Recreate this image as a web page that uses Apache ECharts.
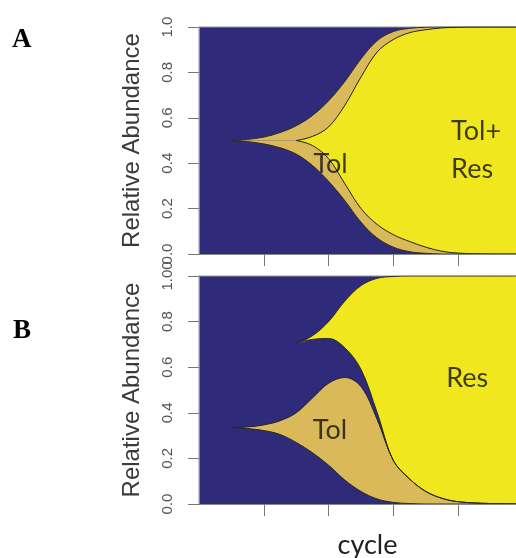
<!DOCTYPE html>
<html lang="en">
<head>
<meta charset="UTF-8" />
<script src="https://cdn.jsdelivr.net/npm/echarts@6.0.0/dist/echarts.min.js"></script>
<title>Muller plots</title>
<style>
  body { margin: 0; background: #fff; }
  #container { width: 516px; height: 558px; }
</style>
</head>
<body>
<div id="container"></div>
<script>
const cycles = [0, 0.5, 0.75, 1, 1.25, 1.5, 1.75, 2, 2.25, 2.5, 2.75, 3, 3.25, 3.5, 3.75, 4, 4.5, 5.2];

// panel A: Tol emerges, Tol+Res nested inside it (null = not present yet)
const tolUpperA = [null, 0.5, 0.505, 0.515, 0.535, 0.565, 0.61, 0.675, 0.76, 0.86, 0.94, 0.98, 0.994, 0.999, 1, 1, 1, 1];
const tolLowerA = [null, 0.5, 0.495, 0.485, 0.468, 0.44, 0.39, 0.32, 0.235, 0.14, 0.07, 0.03, 0.01, 0.003, 0, 0, 0, 0];
const resUpperA = [null, null, null, null, null, 0.5, 0.518, 0.56, 0.655, 0.78, 0.89, 0.945, 0.975, 0.988, 0.996, 0.999, 1, 1];
const resLowerA = [null, null, null, null, null, 0.5, 0.478, 0.42, 0.31, 0.2, 0.13, 0.085, 0.055, 0.03, 0.012, 0.004, 0, 0];

// panel B: Tol and Res arise separately
const tolUpperB = [null, 0.335, 0.338, 0.347, 0.365, 0.4, 0.465, 0.53, 0.555, 0.515, 0.37, 0.19, 0.11, 0.055, 0.025, 0.01, 0.002, 0];
const tolLowerB = [null, 0.335, 0.331, 0.322, 0.305, 0.27, 0.225, 0.17, 0.105, 0.055, 0.022, 0.007, 0.002, 0, 0, 0, 0, 0];
const resUpperB = [null, null, null, null, null, 0.707, 0.738, 0.8, 0.89, 0.958, 0.99, 0.998, 1, 1, 1, 1, 1, 1];
const resLowerB = [null, null, null, null, null, 0.707, 0.722, 0.726, 0.685, 0.59, 0.4, 0.19, 0.11, 0.055, 0.025, 0.01, 0.002, 0];

const yTicksA = ['0.0', '0.2', '0.4', '0.6', '0.8', '1.0'];
const yTicksB = ['0.0', '0.2', '0.4', '0.6', '0.8', '1.00'];
const xTicks = [1, 2, 3, 4];

const labelsA = [
  { text: 'Tol', x: 2.03, y: 0.396, align: 'center' },
  { text: 'Tol+\nRes', x: 3.89, y: 0.458, align: 'left' }
];
const labelsB = [
  { text: 'Tol', x: 2.02, y: 0.325, align: 'center' },
  { text: 'Res', x: 4.14, y: 0.553, align: 'center' }
];

const blue = '#302a7b';
const tan = '#d9b95a';
const yellow = '#f1e71e';
const edge = '#2a2a1c';
const SMOOTH = 0.35;

// before a clone appears its boundary sits at the point where it will emerge
function held(values) {
  const first = values.find(v => v != null);
  return values.map(v => v == null ? first : v);
}

// stacked bands, bottom to top; each band is [lowerBoundary, upperBoundary, colour]
// data is written [value, cycle] so that the stack runs along y
function bands(idx, stack, layers) {
  return layers.map(([lower, upper, color], k) => ({
    type: 'line',
    xAxisIndex: idx,
    yAxisIndex: idx,
    stack: stack,
    encode: { x: 1, y: 0 },
    data: cycles.map((c, i) => [k === 0 ? upper[i] : upper[i] - lower[i], c]),
    smooth: SMOOTH,
    symbol: 'none',
    lineStyle: { width: 0 },
    areaStyle: { color: color, opacity: 1 },
    silent: true
  }));
}

// boundary outlines, drawn only where the clone exists
function outlines(idx, list) {
  return list.map(values => ({
    type: 'line',
    xAxisIndex: idx,
    yAxisIndex: idx,
    z: 3,
    data: cycles.map((c, i) => values[i] == null ? null : [c, values[i]]).filter(Boolean),
    smooth: SMOOTH,
    symbol: 'none',
    lineStyle: { color: edge, width: 1 },
    silent: true
  }));
}

function textSeries(idx, labels) {
  return labels.map(l => ({
    type: 'scatter',
    xAxisIndex: idx,
    yAxisIndex: idx,
    symbolSize: 0,
    z: 5,
    data: [[l.x, l.y]],
    label: {
      show: true,
      position: 'inside',
      align: l.align,
      formatter: l.text,
      fontFamily: 'Lato',
      fontSize: 27,
      lineHeight: 38,
      color: '#111'
    },
    silent: true
  }));
}

function xAxisFor(idx, withName) {
  return {
    type: 'value',
    gridIndex: idx,
    z: 4,
    min: 0,
    max: 5.2,
    interval: 1,
    splitLine: { show: false },
    axisLine: { show: true, lineStyle: { color: '#888', width: 1 } },
    axisTick: { show: true, length: 12, customValues: xTicks, lineStyle: { color: '#777' } },
    axisLabel: { show: false },
    name: withName ? 'cycle' : '',
    nameLocation: 'middle',
    nameGap: 28,
    nameTextStyle: { fontFamily: 'Lato', fontSize: 27, color: '#222' }
  };
}

function yAxisFor(idx, ticks) {
  return {
    type: 'value',
    gridIndex: idx,
    z: 4,
    min: 0,
    max: 1,
    interval: 0.2,
    splitLine: { show: false },
    axisLine: { show: true, lineStyle: { color: '#888', width: 1 } },
    axisTick: { show: true, length: 11, lineStyle: { color: '#777' } },
    axisLabel: {
      rotate: 90,
      margin: 24,
      fontFamily: 'Liberation Sans',
      fontSize: 15,
      color: '#555',
      formatter: (v) => ticks[Math.round(v * 5)]
    },
    name: 'Relative Abundance',
    nameLocation: 'middle',
    nameRotate: 90,
    nameGap: 55,
    nameTextStyle: { fontFamily: 'Liberation Sans', fontSize: 24, color: '#3a3a3a' }
  };
}

const tlA = held(tolLowerA), tuA = held(tolUpperA), rlA = held(resLowerA), ruA = held(resUpperA);
const tlB = held(tolLowerB), tuB = held(tolUpperB), rlB = held(resLowerB), ruB = held(resUpperB);

const chart = echarts.init(document.getElementById('container'), null, { renderer: 'canvas' });

const option = {
  animation: false,
  backgroundColor: '#fff',
  grid: [
    { left: 199, top: 27, height: 227, width: 337, outerBoundsMode: 'none', show: true, backgroundColor: blue, borderColor: '#999', borderWidth: 1 },
    { left: 199, top: 276, height: 228, width: 337, outerBoundsMode: 'none', show: true, backgroundColor: blue, borderColor: '#999', borderWidth: 1 }
  ],
  xAxis: [xAxisFor(0, false), xAxisFor(1, true)],
  yAxis: [yAxisFor(0, yTicksA), yAxisFor(1, yTicksB)],
  graphic: [
    { type: 'text', left: 12, top: 27, style: { text: 'A', fontFamily: 'Liberation Serif', fontWeight: 'bold', fontSize: 27, fill: '#000' } },
    { type: 'text', left: 13, top: 318, style: { text: 'B', fontFamily: 'Liberation Serif', fontWeight: 'bold', fontSize: 27, fill: '#000' } }
  ],
  series: [].concat(
    bands(0, 'A', [
      [null, tlA, blue],
      [tlA, rlA, tan],
      [rlA, ruA, yellow],
      [ruA, tuA, tan]
    ]),
    outlines(0, [tolUpperA, tolLowerA, resUpperA, resLowerA]),
    bands(1, 'B', [
      [null, tlB, blue],
      [tlB, tuB, tan],
      [tuB, rlB, blue],
      [rlB, ruB, yellow]
    ]),
    outlines(1, [tolUpperB, tolLowerB, resUpperB, resLowerB]),
    textSeries(0, labelsA),
    textSeries(1, labelsB)
  )
};

chart.setOption(option);
</script>
</body>
</html>
